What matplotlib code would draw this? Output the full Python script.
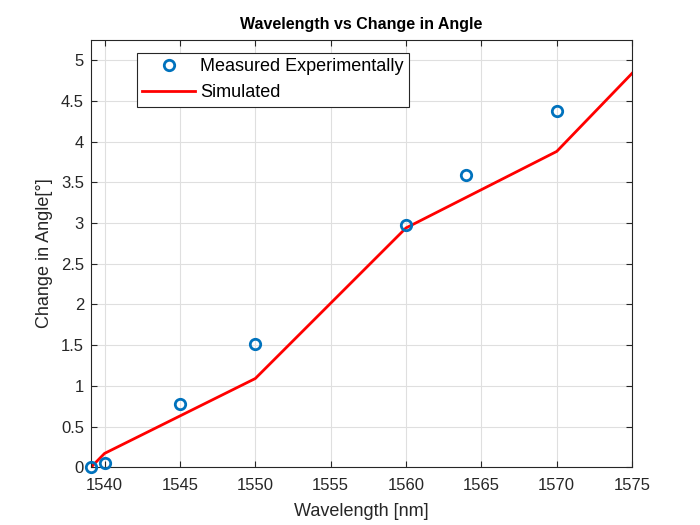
import numpy as np
import matplotlib
matplotlib.use('Agg')
import matplotlib.pyplot as plt

plt.rcParams['font.family'] = ['Liberation Sans', 'DejaVu Sans']

# measured points
meas_wl = [1539.1, 1540, 1545, 1550, 1560, 1564, 1570]
meas_ang = [0.0, 0.05, 0.78, 1.51, 2.97, 3.59, 4.38]
# simulated curve
sim_wl = [1539.1, 1540, 1550, 1560, 1570, 1575]
sim_ang = [0.0, 0.17, 1.09, 2.94, 3.88, 4.84]

fig = plt.figure(figsize=(7, 5.25), dpi=100)
ax = fig.add_axes([0.13, 0.11, 0.773, 0.814])

ax.plot(meas_wl, meas_ang, 'o', markerfacecolor='none', markeredgecolor='#0072BD',
        markeredgewidth=2, markersize=7.5, label='Measured Experimentally',
        zorder=3, clip_on=False)
ax.plot(sim_wl, sim_ang, '-', color='#FF0000', linewidth=2, label='Simulated', zorder=2)

ax.set_xlim(1539.1, 1575)
ax.set_ylim(0, 5.25)
ax.set_xticks([1540, 1545, 1550, 1555, 1560, 1565, 1570, 1575])
ax.set_yticks([0, 0.5, 1, 1.5, 2, 2.5, 3, 3.5, 4, 4.5, 5])
ax.set_yticklabels(['0', '0.5', '1', '1.5', '2', '2.5', '3', '3.5', '4', '4.5', '5'])

ax.grid(True, color='#DFDFDF', linewidth=0.8)
ax.set_axisbelow(True)
for s in ax.spines.values():
    s.set_color('#262626')
    s.set_linewidth(0.8)
ax.tick_params(direction='in', top=True, right=True, colors='#262626',
               labelsize=12, length=4)
ax.tick_params(axis='x', pad=8)
ax.tick_params(axis='y', pad=5)
ax.set_xlabel('Wavelength [nm]', fontsize=13, color='#262626', labelpad=7)
ax.set_ylabel('Change in Angle[°]', fontsize=13, color='#262626', labelpad=6)
ax.set_title('Wavelength vs Change in Angle', fontsize=11.5, fontweight='bold', pad=8)

leg = ax.legend(loc='upper left', bbox_to_anchor=(0.085, 0.97), fontsize=13,
                fancybox=False, framealpha=1, edgecolor='#262626',
                borderpad=0.3, labelspacing=0.5, handlelength=2.9,
                handletextpad=0.3, borderaxespad=0)
leg.get_frame().set_linewidth(0.8)

fig.savefig('out.png', dpi=100)
